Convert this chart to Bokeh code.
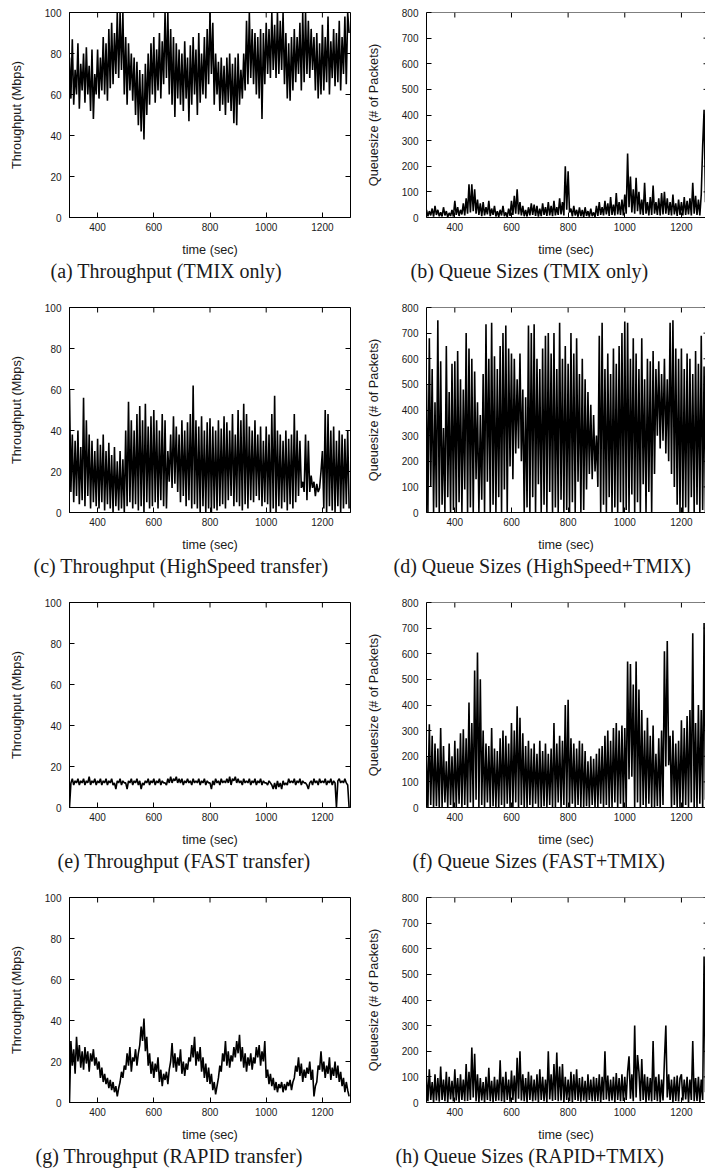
from bokeh.plotting import figure
from bokeh.models import Range1d, LinearAxis, Title, FixedTicker, Span
from bokeh.layouts import column, row
from bokeh.embed import file_html
from bokeh.resources import INLINE

# ---------------- data ----------------
TIME_SEC = list(range(300, 1300, 5))
X_TICKS = [400, 600, 800, 1000, 1200]
TPUT_TICKS = [0, 20, 40, 60, 80, 100]
QUEUE_TICKS = [0, 100, 200, 300, 400, 500, 600, 700, 800]

CAPTIONS = [
    "(a) Throughput (TMIX only)",
    "(b) Queue Sizes (TMIX only)",
    "(c) Throughput (HighSpeed transfer)",
    "(d) Queue Sizes (HighSpeed+TMIX)",
    "(e) Throughput (FAST transfer)",
    "(f) Queue Sizes (FAST+TMIX)",
    "(g) Throughput (RAPID transfer)",
    "(h) Queue Sizes (RAPID+TMIX)",
]

tput_tmix = [
    78, 58, 87, 55, 72, 60, 85, 53, 75, 62,
    80, 56, 83, 60, 74, 52, 82, 48, 70, 60,
    82, 58, 78, 62, 88, 60, 85, 57, 92, 63,
    95, 65, 90, 70, 100, 68, 100, 72, 100, 60,
    88, 55, 85, 62, 80, 57, 78, 50, 76, 45,
    72, 42, 70, 38, 75, 50, 80, 55, 85, 60,
    88, 56, 82, 62, 90, 58, 86, 65, 100, 68,
    100, 60, 92, 55, 88, 49, 85, 58, 82, 55,
    80, 52, 86, 58, 78, 47, 84, 55, 88, 60,
    82, 50, 90, 56, 80, 60, 88, 58, 92, 65,
    100, 70, 95, 55, 80, 60, 76, 52, 78, 55,
    74, 50, 78, 56, 80, 52, 75, 46, 78, 45,
    80, 55, 72, 58, 80, 62, 96, 65, 100, 68,
    92, 65, 90, 60, 88, 58, 92, 48, 90, 65,
    95, 70, 92, 68, 100, 72, 94, 68, 100, 70,
    96, 72, 100, 65, 90, 58, 85, 57, 88, 62,
    92, 66, 88, 70, 95, 62, 100, 66, 100, 70,
    96, 68, 92, 72, 88, 62, 90, 58, 85, 60,
    94, 62, 88, 66, 98, 60, 86, 68, 92, 64,
    90, 66, 96, 62, 88, 70, 98, 65, 100, 90,
]

queue_tmix = [
    30, 5, 25, 8, 35, 3, 45, 10, 30, 5,
    20, 4, 40, 8, 25, 2, 18, 6, 30, 4,
    65, 10, 40, 6, 30, 12, 55, 8, 75, 15,
    130, 20, 130, 25, 110, 15, 70, 10, 55, 5,
    60, 8, 40, 12, 65, 5, 35, 10, 45, 4,
    25, 3, 30, 8, 45, 5, 20, 2, 35, 6,
    65, 10, 85, 15, 110, 12, 60, 8, 45, 5,
    30, 4, 40, 8, 55, 10, 50, 6, 45, 3,
    35, 5, 55, 10, 40, 6, 60, 8, 45, 5,
    65, 8, 40, 10, 75, 12, 60, 8, 200, 30,
    180, 20, 35, 4, 45, 8, 30, 3, 40, 5,
    30, 2, 40, 6, 25, 3, 35, 5, 20, 2,
    45, 6, 60, 10, 40, 8, 65, 12, 55, 6,
    80, 10, 50, 8, 95, 12, 60, 10, 70, 8,
    90, 15, 250, 40, 160, 20, 110, 15, 155, 25,
    100, 12, 70, 10, 135, 15, 60, 8, 80, 10,
    125, 15, 60, 10, 75, 8, 95, 12, 100, 15,
    75, 10, 60, 8, 90, 12, 55, 6, 70, 10,
    60, 8, 80, 10, 65, 12, 75, 8, 135, 15,
    85, 10, 70, 8, 90, 280, 420, 60, 80, 40,
]

tput_highspeed = [
    60, 10, 38, 5, 35, 8, 40, 4, 32, 6,
    56, 3, 45, 8, 38, 2, 35, 5, 30, 3,
    36, 2, 33, 5, 38, 1, 30, 4, 34, 2,
    28, 0, 32, 3, 25, 1, 30, 2, 26, 0,
    40, 3, 54, 5, 45, 2, 40, 4, 48, 1,
    52, 3, 45, 0, 53, 5, 42, 2, 47, 3,
    50, 5, 45, 2, 40, 6, 48, 3, 45, 2,
    30, 15, 38, 12, 47, 14, 42, 10, 38, 5,
    45, 8, 40, 3, 44, 6, 48, 2, 62, 4,
    45, 2, 42, 0, 47, 3, 40, 0, 44, 2,
    46, 0, 42, 2, 40, 1, 45, 3, 41, 4,
    47, 2, 44, 6, 40, 8, 48, 3, 38, 5,
    50, 3, 45, 1, 53, 4, 48, 2, 42, 6,
    40, 5, 45, 8, 38, 6, 42, 3, 35, 5,
    42, 4, 38, 0, 48, 2, 57, 0, 40, 3,
    38, 2, 35, 5, 40, 1, 36, 4, 38, 2,
    48, 5, 40, 8, 35, 12, 15, 10, 38, 6,
    35, 10, 18, 12, 15, 8, 14, 10, 12, 20,
    30, 2, 50, 0, 48, 3, 40, 1, 42, 0,
    35, 3, 40, 0, 38, 2, 36, 4, 40, 2,
]

queue_highspeed = [
    500, 0, 680, 100, 560, 0, 430, 20, 750, 0,
    590, 30, 330, 0, 650, 60, 470, 0, 580, 10,
    590, 0, 630, 40, 520, 0, 480, 90, 700, 0,
    640, 20, 600, 0, 550, 130, 430, 0, 380, 50,
    540, 0, 735, 120, 600, 0, 740, 30, 610, 0,
    560, 60, 650, 0, 700, 90, 730, 0, 640, 180,
    620, 130, 600, 230, 520, 250, 620, 200, 480, 0,
    450, 20, 730, 0, 700, 60, 735, 0, 600, 110,
    560, 0, 640, 30, 690, 0, 700, 80, 620, 0,
    700, 20, 560, 0, 740, 50, 600, 0, 650, 10,
    580, 0, 700, 40, 620, 0, 680, 120, 540, 0,
    600, 10, 520, 90, 470, 150, 420, 130, 380, 160,
    300, 100, 690, 0, 740, 30, 560, 0, 620, 60,
    540, 0, 640, 20, 580, 0, 650, 40, 700, 0,
    745, 10, 740, 0, 600, 70, 680, 0, 620, 40,
    560, 0, 680, 110, 520, 0, 600, 80, 590, 0,
    630, 150, 560, 300, 590, 250, 540, 280, 600, 230,
    520, 200, 740, 150, 750, 100, 640, 30, 600, 0,
    640, 0, 560, 20, 620, 0, 600, 60, 540, 0,
    630, 30, 580, 0, 690, 10, 570, 0, 620, 40,
]

tput_fast = [
    0, 12, 14, 11, 13, 12, 14, 11, 13, 12,
    14, 11, 13, 12, 15, 11, 13, 12, 14, 11,
    13, 12, 14, 11, 13, 12, 14, 11, 13, 12,
    14, 11, 12, 9, 13, 12, 14, 11, 13, 12,
    12, 9, 13, 12, 14, 11, 13, 12, 14, 11,
    13, 9, 12, 11, 13, 12, 14, 11, 13, 12,
    14, 11, 13, 12, 14, 11, 13, 12, 12, 11,
    14, 12, 15, 12, 14, 13, 15, 12, 14, 12,
    14, 11, 13, 12, 14, 12, 13, 11, 14, 12,
    13, 12, 14, 11, 13, 12, 14, 11, 13, 12,
    12, 9, 13, 11, 14, 12, 13, 11, 14, 12,
    13, 12, 14, 12, 15, 11, 14, 13, 15, 12,
    14, 12, 13, 11, 14, 12, 13, 12, 14, 11,
    13, 12, 14, 11, 13, 12, 14, 11, 13, 12,
    12, 11, 13, 12, 11, 9, 12, 9, 13, 10,
    12, 9, 13, 11, 12, 11, 14, 12, 13, 12,
    14, 11, 13, 12, 14, 11, 13, 12, 12, 11,
    9, 12, 13, 11, 14, 12, 13, 11, 14, 12,
    13, 12, 14, 11, 13, 12, 14, 11, 13, 12,
    0, 13, 14, 12, 13, 12, 14, 12, 11, 0,
]

queue_fast = [
    200, 0, 325, 10, 280, 0, 250, 5, 230, 0,
    310, 0, 240, 20, 180, 0, 250, 10, 200, 0,
    260, 0, 230, 15, 290, 0, 305, 10, 270, 0,
    410, 20, 330, 0, 535, 30, 605, 0, 500, 10,
    300, 0, 250, 20, 240, 0, 310, 5, 230, 0,
    220, 0, 270, 10, 300, 0, 280, 15, 250, 0,
    330, 0, 300, 20, 395, 0, 350, 10, 290, 0,
    240, 0, 260, 10, 230, 0, 250, 15, 210, 0,
    260, 0, 220, 5, 250, 0, 210, 10, 230, 0,
    330, 0, 250, 20, 280, 0, 260, 10, 400, 0,
    420, 0, 270, 15, 250, 0, 230, 10, 260, 0,
    250, 0, 220, 5, 180, 0, 200, 10, 190, 0,
    210, 0, 230, 15, 240, 0, 280, 10, 300, 0,
    260, 0, 310, 20, 330, 0, 300, 15, 320, 0,
    310, 0, 570, 110, 560, 120, 480, 0, 570, 20,
    460, 0, 380, 10, 300, 0, 350, 15, 280, 0,
    320, 0, 210, 5, 270, 0, 300, 10, 610, 160,
    650, 165, 280, 0, 300, 10, 250, 0, 260, 0,
    340, 0, 310, 10, 357, 0, 380, 20, 680, 0,
    330, 0, 400, 15, 380, 0, 720, 30, 640, 0,
]

tput_rapid = [
    0, 30, 18, 26, 14, 32, 20, 28, 17, 25,
    16, 27, 19, 25, 15, 24, 20, 26, 18, 22,
    16, 20, 12, 17, 10, 14, 9, 12, 7, 11,
    6, 10, 5, 8, 3, 7, 10, 15, 12, 18,
    16, 24, 18, 27, 15, 22, 20, 26, 18, 24,
    28, 37, 30, 41, 25, 32, 18, 24, 14, 20,
    12, 19, 15, 22, 10, 16, 8, 14, 11, 15,
    9, 16, 20, 29, 17, 24, 15, 22, 18, 26,
    14, 20, 13, 19, 16, 22, 20, 28, 22, 32,
    18, 25, 20, 27, 15, 22, 12, 19, 10, 17,
    9, 14, 6, 10, 4, 8, 12, 18, 15, 24,
    20, 30, 18, 25, 17, 23, 20, 27, 22, 30,
    24, 33, 20, 27, 17, 24, 15, 22, 18, 24,
    16, 22, 19, 27, 22, 28, 18, 25, 20, 30,
    12, 16, 9, 14, 8, 12, 6, 10, 5, 9,
    7, 10, 5, 9, 6, 10, 8, 11, 6, 10,
    12, 18, 15, 22, 13, 19, 10, 16, 12, 17,
    14, 20, 11, 16, 3, 8, 10, 18, 16, 25,
    15, 20, 12, 18, 14, 22, 11, 17, 13, 20,
    12, 18, 10, 15, 8, 12, 5, 10, 6, 3,
]

queue_rapid = [
    100, 5, 130, 10, 80, 0, 110, 8, 95, 3,
    140, 10, 90, 5, 120, 0, 100, 12, 85, 4,
    130, 8, 95, 0, 110, 10, 90, 5, 150, 6,
    120, 10, 215, 20, 190, 5, 110, 0, 95, 8,
    80, 0, 100, 10, 135, 5, 85, 0, 100, 6,
    90, 8, 165, 5, 100, 0, 120, 10, 90, 3,
    125, 10, 105, 0, 175, 15, 200, 8, 110, 5,
    95, 0, 120, 10, 105, 4, 90, 8, 110, 0,
    130, 10, 100, 5, 90, 0, 200, 12, 110, 6,
    150, 10, 195, 5, 140, 8, 150, 0, 100, 10,
    90, 5, 120, 0, 110, 10, 130, 6, 95, 3,
    100, 8, 85, 0, 110, 10, 90, 5, 100, 4,
    95, 6, 110, 0, 100, 10, 200, 12, 105, 5,
    90, 8, 100, 0, 115, 10, 95, 5, 110, 6,
    100, 10, 120, 180, 15, 110, 5, 300, 20, 185,
    120, 5, 170, 10, 110, 0, 100, 8, 95, 4,
    240, 10, 100, 5, 110, 0, 90, 8, 165, 300,
    20, 110, 10, 90, 0, 100, 6, 105, 4, 95,
    110, 8, 90, 12, 100, 0, 90, 10, 240, 5,
    95, 6, 100, 0, 90, 10, 570, 40, 100, 10,
]

# ---------------- styling ----------------
SANS = "Liberation Sans"
SERIF = "Liberation Serif"
TXT = "#1a1a1a"
FRAME_H = 205
TOP_B = 12
TICK_PX = 5


def style_axis(ax):
    ax.major_label_text_font = SANS
    ax.major_label_text_font_size = "10px"
    ax.major_label_text_color = TXT
    ax.axis_label_text_font = SANS
    ax.axis_label_text_font_size = "12.7px"
    ax.axis_label_text_font_style = "normal"
    ax.axis_label_text_color = TXT
    ax.major_tick_in = TICK_PX
    ax.major_tick_out = 0
    ax.minor_tick_in = 0
    ax.minor_tick_out = 0
    ax.axis_line_color = "black"
    ax.major_tick_line_color = "black"
    ax.axis_line_width = 1


def make_panel(values, is_queue, caption, cap_left, right_col, height):
    x_end = 1285 if right_col else 1300
    y_end = 800 if is_queue else 100
    y_ticks = QUEUE_TICKS if is_queue else TPUT_TICKS
    width = 345 if right_col else 360
    left_b = 66 if right_col else 69
    right_b = 0 if right_col else 10
    page_x = 360 if right_col else 0
    frame_w = width - left_b - right_b
    p = figure(width=width, height=height,
               x_range=Range1d(300, x_end), y_range=Range1d(0, y_end),
               output_backend="svg", toolbar_location=None, tools="",
               x_axis_type=None, y_axis_type=None,
               min_border_left=left_b, min_border_right=right_b,
               min_border_top=TOP_B, min_border_bottom=height - TOP_B - FRAME_H)
    p.background_fill_color = "white"
    p.border_fill_color = "white"
    if right_col:
        # the right edge of these frames lies just past the page edge
        p.outline_line_color = None
        p.add_layout(Span(location=y_end, dimension="width",
                          line_color="black", line_width=1))
    else:
        p.outline_line_color = "black"
        p.outline_line_width = 1

    xb = LinearAxis(ticker=FixedTicker(ticks=X_TICKS), axis_label="time (sec)")
    style_axis(xb)
    xb.major_label_standoff = 5
    xb.axis_label_standoff = 9
    p.add_layout(xb, "below")

    yl = LinearAxis(ticker=FixedTicker(ticks=y_ticks),
                    axis_label="Queuesize (# of Packets)" if is_queue else "Throughput (Mbps)")
    style_axis(yl)
    yl.major_label_standoff = 8
    yl.axis_label_standoff = 18
    p.add_layout(yl, "left")

    # mirrored inward ticks on the top and right frame edges
    dy = TICK_PX * y_end / FRAME_H
    p.segment(x0=X_TICKS, y0=[y_end] * len(X_TICKS),
              x1=X_TICKS, y1=[y_end - dy] * len(X_TICKS),
              line_color="black", line_width=1)
    r_len = 2 if right_col else TICK_PX
    dx = r_len * (x_end - 300) / frame_w
    p.segment(x0=[x_end] * len(y_ticks), y0=y_ticks,
              x1=[x_end - dx] * len(y_ticks), y1=y_ticks,
              line_color="black", line_width=1)

    p.line(x=TIME_SEC, y=values, line_color="black", line_width=1.6)

    frame_left = page_x + left_b
    t = Title(text=caption, align="left", offset=cap_left - frame_left,
              text_font=SERIF, text_font_size="20px", text_font_style="normal",
              text_color=TXT, standoff=-4)
    p.add_layout(t, "below")
    return p


series = [tput_tmix, queue_tmix, tput_highspeed, queue_highspeed,
          tput_fast, queue_fast, tput_rapid, queue_rapid]
cap_lefts = [50, 410, 33, 393, 57, 412, 35, 395]
heights = [295, 295, 295, 285]

panels = []
for i in range(8):
    r = i // 2
    panels.append(make_panel(series[i], i % 2 == 1, CAPTIONS[i], cap_lefts[i],
                             i % 2 == 1, heights[r]))

layout = column(*[row(panels[2 * r], panels[2 * r + 1]) for r in range(4)])

open("out.html", "w").write(file_html(layout, INLINE))
